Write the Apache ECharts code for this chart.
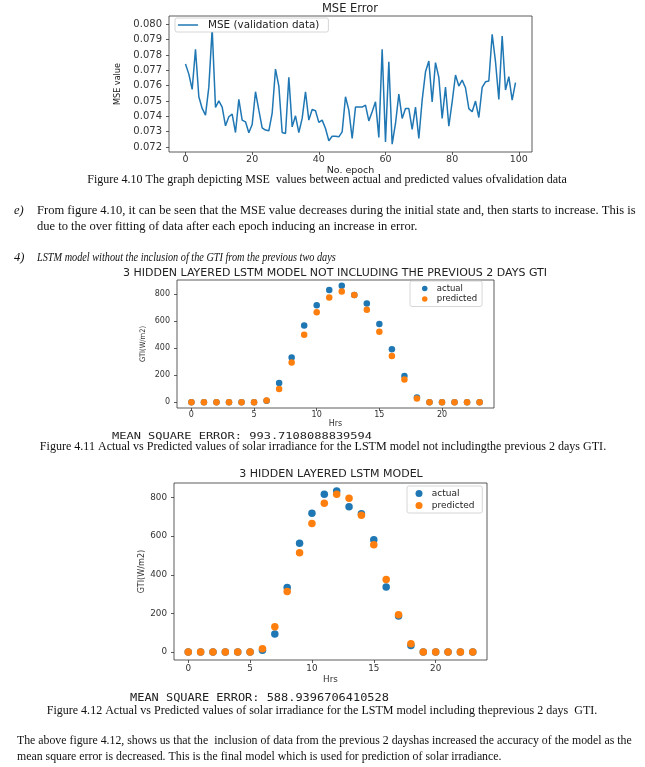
<!DOCTYPE html>
<html>
<head>
<meta charset="utf-8">
<script src="https://cdn.jsdelivr.net/npm/echarts@6/dist/echarts.min.js"></script>
<style>
html,body{margin:0;padding:0;background:#fff;}
#c{width:645px;height:767px;}
</style>
</head>
<body>
<div id="c"></div>
<script>
// ---------------- DATA ----------------
const mseValues = [
0.07741,0.07675,0.07575,0.07837,0.07527,0.07451,0.07407,0.0759,0.0797,0.07457,
0.0750,0.0746,0.07338,0.07397,0.07414,0.07294,0.0751,0.07375,0.07364,0.07292,
0.07346,0.0756,0.0744,0.07325,0.0731,0.07305,0.0742,0.07708,0.07597,0.07294,
0.07288,0.07654,0.07331,0.07403,0.07294,0.07386,0.0756,0.07375,0.07444,0.07436,
0.0736,0.07375,0.0732,0.0724,0.0727,0.0727,0.07266,0.07298,0.07527,0.0744,
0.07255,0.0746,0.0746,0.0746,0.07473,0.0737,0.07429,0.07494,0.07262,0.07837,
0.07233,0.07756,0.07218,0.07353,0.07545,0.07386,0.0745,0.0745,0.07314,0.0746,
0.07255,0.07505,0.0769,0.0776,0.07494,0.0775,0.07654,0.07386,0.0759,0.07335,
0.07494,0.07669,0.07597,0.07636,0.07586,0.0745,0.07429,0.07499,0.07392,0.07588,
0.07625,0.0763,0.07935,0.07756,0.0751,0.07924,0.07571,0.07658,0.07505,0.07619
];
const mseTicksY = [0.072,0.073,0.074,0.075,0.076,0.077,0.078,0.079,0.080];
const epochTicks = [0,20,40,60,80,100];

const hours = [0,1,2,3,4,5,6,7,8,9,10,11,12,13,14,15,16,17,18,19,20,21,22,23];
const actualNoGTI    = [0,0,0,0,0,0,11,142,329,567,716,829,859,792,729,577,390,194,34,0,0,0,0,0];
const predictedNoGTI = [0,0,0,0,0,0,12,98,292,498,663,773,817,792,682,520,341,167,27,0,0,0,0,0];
const actualGTI      = [0,0,0,0,0,0,9,93,334,564,719,817,834,753,716,581,337,186,34,0,0,0,0,0];
const predictedGTI   = [0,0,0,0,0,0,17,131,313,514,666,771,817,797,709,556,375,193,43,0,0,0,0,0];
const hourTicks = [0,5,10,15,20];
const gtiTicks = [0,200,400,600,800];

const mseText1 = 'MEAN SQUARE ERROR: 993.7108088839594';
const mseText2 = 'MEAN SQUARE ERROR: 588.9396706410528';

// ---------------- HELPERS ----------------
const SANS = "'DejaVu Sans', Verdana, sans-serif";
const NARROW = "'DejaVu Sans Condensed','Liberation Sans',sans-serif";
const SERIF = "'Liberation Serif','Times New Roman',serif";
const MONO = "'DejaVu Sans Mono','Liberation Mono',monospace";
const C0 = '#1f77b4', C1 = '#ff7f0e';
const AX = '#333';

const mctx = document.createElement('canvas').getContext('2d');
function measure(text, family, style) {
  mctx.font = (style || '') + ' 100px ' + family;
  return mctx.measureText(text).width / 100;
}
function fitSize(text, family, style, w) { return w / measure(text, family, style); }

function pair(xs, ys) { return ys.map((v, i) => [xs[i], v]); }
const epochs = mseValues.map((v, i) => i);

function valueAxis(gridIndex, min, max, ticks, fmt, fs, margin, extra) {
  return Object.assign({
    type: 'value', gridIndex, min, max,
    axisLine: { show: false, onZero: false },
    splitLine: { show: false },
    axisTick: { show: true, inside: false, length: 3, lineStyle: { color: AX, width: 0.8 }, customValues: ticks },
    axisLabel: { color: '#333', fontSize: fs, fontFamily: SANS, margin, customValues: ticks, formatter: fmt }
  }, extra || {});
}

// ---------------- TEXT ----------------
const texts = [];
function addText(text, x, y, family, size, opt) {
  opt = opt || {};
  texts.push({
    type: 'text', x, y, scaleX: opt.scaleX || 1, silent: true,
    style: {
      text, fill: opt.color || '#111',
      font: (opt.style || '') + ' ' + size.toFixed(2) + 'px ' + family,
      textAlign: opt.align || 'left', textVerticalAlign: 'middle'
    }
  });
}
// captions and paragraphs
const cap410 = 'Figure 4.10 The graph depicting MSE  values between actual and predicted values ofvalidation data';
addText(cap410, 327, 180, SERIF, fitSize(cap410, SERIF, '', 480), { align: 'center' });
const pe1 = 'From figure 4.10, it can be seen that the MSE value decreases during the initial state and, then starts to increase. This is';
const pe2 = 'due to the over fitting of data after each epoch inducing an increase in error.';
const peSize = fitSize(pe1, SERIF, '', 599);
addText('e)', 14, 211, SERIF, peSize, { style: 'italic' });
addText(pe1, 37, 211, SERIF, peSize);
addText(pe2, 37, 227, SERIF, peSize);
const p4 = 'LSTM model without the inclusion of the GTI from the previous two days';
addText('4)', 14, 258, SERIF, peSize, { style: 'italic' });
addText(p4, 37, 258, SERIF, peSize, { style: 'italic', scaleX: 299 / (measure(p4, SERIF, 'italic') * peSize) });
const cap411 = 'Figure 4.11 Actual vs Predicted values of solar irradiance for the LSTM model not includingthe previous 2 days GTI.';
addText(cap411, 323, 447, SERIF, fitSize(cap411, SERIF, '', 567), { align: 'center' });
const cap412 = 'Figure 4.12 Actual vs Predicted values of solar irradiance for the LSTM model including theprevious 2 days  GTI.';
addText(cap412, 322, 711, SERIF, fitSize(cap412, SERIF, '', 551), { align: 'center' });
const pf1 = 'The above figure 4.12, shows us that the  inclusion of data from the previous 2 dayshas increased the accuracy of the model as the';
const pf2 = 'mean square error is decreased. This is the final model which is used for prediction of solar irradiance.';
const pfSize = fitSize(pf1, SERIF, '', 615);
addText(pf1, 17, 741, SERIF, pfSize);
addText(pf2, 17, 757, SERIF, pfSize);
// printed MSE lines
addText(mseText1, 112, 436.5, MONO, 8.5, { color: '#222', scaleX: 260 / (measure(mseText1, MONO) * 8.5) });
addText(mseText2, 130, 698, MONO, 9.8, { color: '#222', scaleX: 259 / (measure(mseText2, MONO) * 9.8) });

// ---------------- CHART ----------------
const chart = echarts.init(document.getElementById('c'), null, { renderer: 'canvas' });
const gridStyle = { show: true, borderColor: AX, borderWidth: 0.8, backgroundColor: 'transparent' };

const option = {
  backgroundColor: '#fff',
  animation: false,
  title: [
    { text: 'MSE Error', left: 350, top: 3.5, textAlign: 'center', padding: 0,
      textStyle: { fontFamily: SANS, fontSize: 11.5, fontWeight: 'normal', color: '#222' } },
    { text: '3 HIDDEN LAYERED LSTM MODEL NOT INCLUDING THE PREVIOUS 2 DAYS GTI', left: 335, top: 267.5, textAlign: 'center', padding: 0,
      textStyle: { fontFamily: SANS, fontSize: 11, fontWeight: 'normal', color: '#222' } },
    { text: '3 HIDDEN LAYERED LSTM MODEL', left: 331, top: 469, textAlign: 'center', padding: 0,
      textStyle: { fontFamily: SANS, fontSize: 11, fontWeight: 'normal', color: '#222' } }
  ],
  grid: [
    Object.assign({ left: 169, top: 16, width: 363, height: 136 }, gridStyle),
    Object.assign({ left: 177, top: 280, width: 317, height: 128 }, gridStyle),
    Object.assign({ left: 174, top: 483, width: 313, height: 177 }, gridStyle)
  ],
  xAxis: [
    valueAxis(0, -4.95, 103.95, epochTicks, v => String(v), 9.5, 2.5,
      { name: 'No. epoch', nameLocation: 'middle', nameGap: 8,
        nameTextStyle: { fontFamily: SANS, fontSize: 9.5, color: '#222' } }),
    valueAxis(1, -1.15, 24.15, hourTicks, v => String(v), 8, 3,
      { name: 'Hrs', nameLocation: 'middle', nameGap: 11,
        nameTextStyle: { fontFamily: SANS, fontSize: 8, color: '#333' } }),
    valueAxis(2, -1.15, 24.15, hourTicks, v => String(v), 8.8, 4,
      { name: 'Hrs', nameLocation: 'middle', nameGap: 15,
        nameTextStyle: { fontFamily: SANS, fontSize: 8.8, color: '#333' } })
  ],
  yAxis: [
    valueAxis(0, 0.07167, 0.08054, mseTicksY, v => v.toFixed(3), 10, 7,
      { name: 'MSE value', nameLocation: 'middle', nameGap: 42,
        nameTextStyle: { fontFamily: NARROW, fontSize: 9, color: '#222' } }),
    valueAxis(1, -43, 902, gtiTicks, v => String(v), 8, 7,
      { name: 'GTI(W/m2)', nameLocation: 'middle', nameGap: 30,
        nameTextStyle: { fontFamily: NARROW, fontSize: 7.5, color: '#333' } }),
    valueAxis(2, -41.7, 875.7, gtiTicks, v => String(v), 8.8, 7,
      { name: 'GTI(W/m2)', nameLocation: 'middle', nameGap: 28,
        nameTextStyle: { fontFamily: NARROW, fontSize: 9, color: '#333' } })
  ],
  legend: [
    { data: ['MSE (validation data)'], orient: 'vertical', left: 175, top: 18,
      icon: 'rect', itemWidth: 20, itemHeight: 1.5, itemGap: 2,
      padding: [2, 9, 2, 3], backgroundColor: '#fff', borderColor: '#ccc', borderWidth: 0.8, borderRadius: 2,
      textStyle: { fontFamily: SANS, fontSize: 10.4, color: '#222', padding: [0, 0, 0, 5] } },
    { data: ['actual', 'predicted'], orient: 'vertical', left: 410, top: 281,
      icon: 'circle', itemWidth: 14, itemHeight: 5.5, itemGap: 1.5,
      padding: [3, 5, 3, 12], backgroundColor: '#fff', borderColor: '#ccc', borderWidth: 0.8, borderRadius: 2,
      textStyle: { fontFamily: SANS, fontSize: 8.5, color: '#222', padding: 0 } },
    { data: ['actual ', 'predicted '], orient: 'vertical', left: 407, top: 486,
      icon: 'circle', itemWidth: 15.5, itemHeight: 7, itemGap: 3,
      padding: [3, 5, 3, 8.5], backgroundColor: '#fff', borderColor: '#ccc', borderWidth: 0.8, borderRadius: 2,
      textStyle: { fontFamily: SANS, fontSize: 9, color: '#222', padding: 0 } }
  ],
  series: [
    { name: 'MSE (validation data)', type: 'line', xAxisIndex: 0, yAxisIndex: 0,
      data: pair(epochs, mseValues), showSymbol: false, color: C0,
      lineStyle: { color: C0, width: 1.5 } },
    { name: 'actual', type: 'scatter', xAxisIndex: 1, yAxisIndex: 1, data: pair(hours, actualNoGTI),
      symbolSize: 6.5, color: C0, itemStyle: { color: C0, opacity: 1 } },
    { name: 'predicted', type: 'scatter', xAxisIndex: 1, yAxisIndex: 1, data: pair(hours, predictedNoGTI),
      symbolSize: 6.5, color: C1, itemStyle: { color: C1, opacity: 1 } },
    { name: 'actual ', type: 'scatter', xAxisIndex: 2, yAxisIndex: 2, data: pair(hours, actualGTI),
      symbolSize: 7.5, color: C0, itemStyle: { color: C0, opacity: 1 } },
    { name: 'predicted ', type: 'scatter', xAxisIndex: 2, yAxisIndex: 2, data: pair(hours, predictedGTI),
      symbolSize: 7.5, color: C1, itemStyle: { color: C1, opacity: 1 } }
  ],
  graphic: texts
};
chart.setOption(option);
</script>
</body>
</html>
